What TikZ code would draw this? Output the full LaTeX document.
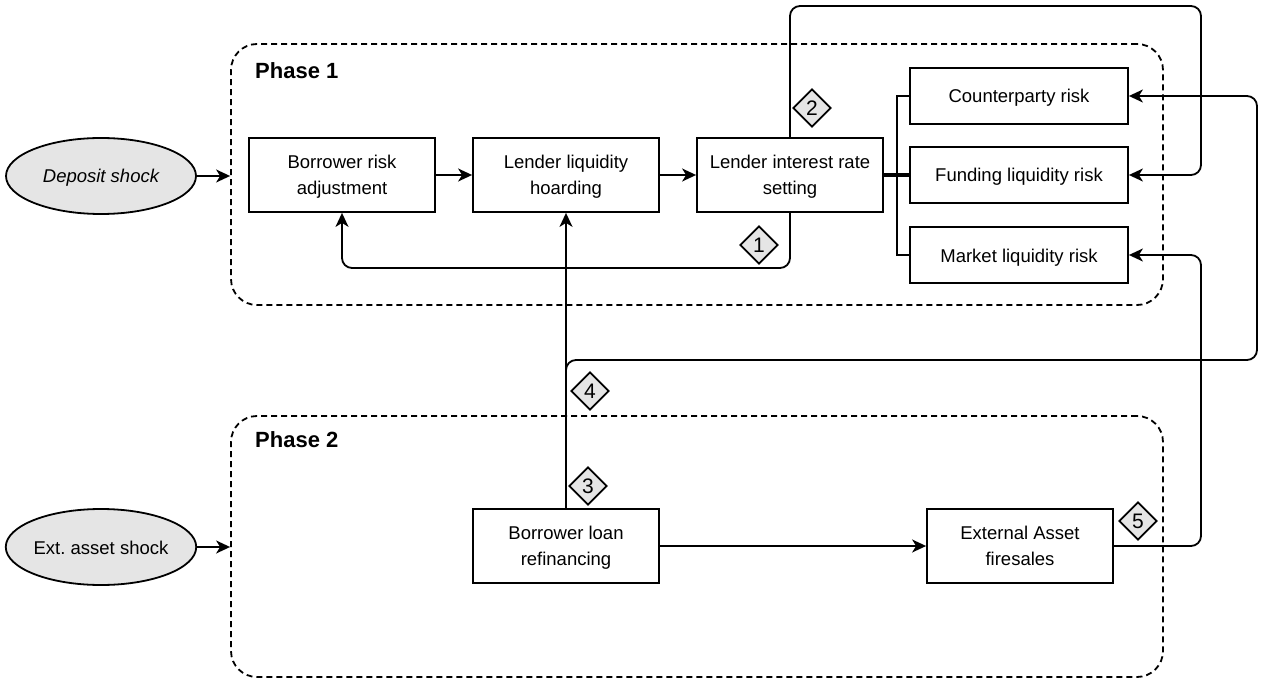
\documentclass[tikz,border=0pt]{standalone}
\usepackage{fontspec}
\setmainfont{Liberation Sans}
\usetikzlibrary{arrows.meta,shapes.geometric}
\frenchspacing
\begin{document}
\begin{tikzpicture}[x=1pt,y=-1pt,
  every node/.style={font=\fontsize{18.5}{26}\selectfont},
  ln/.style={line width=1.8pt},
  arr/.style={ln,-{Stealth[length=14pt,width=13pt,inset=4pt]}},
  rc/.style={rounded corners=10pt},
  ell/.style={ellipse,draw,ln,fill=black!10,minimum width=190pt,minimum height=76pt,inner sep=0pt,text height=16pt,text depth=2pt},
  phase/.style={draw,ln,dash pattern=on 6pt off 4pt,rounded corners=26pt,minimum width=932pt,minimum height=261pt,inner sep=0pt},
  pbox/.style={draw,ln,fill=white,minimum width=186pt,minimum height=74pt,align=center,inner sep=0pt,text depth=0pt},
  rbox/.style={draw,ln,fill=white,minimum width=218pt,minimum height=56pt,inner sep=0pt,text height=16pt,text depth=2pt},
  dia/.style={diamond,draw,ln,fill=black!10,minimum width=38pt,minimum height=38pt,inner sep=0pt,aspect=1,font=\fontsize{21}{24}\selectfont},
  ptitle/.style={font=\fontsize{22}{26}\selectfont\bfseries,anchor=west,inner sep=0pt}
]
\useasboundingbox (0,0) rectangle (1264,679);
% phases
\node[phase] (p1) at (697,174.5) {};
\node[phase] (p2) at (697,546.5) {};
\node[ptitle] (t1) at (255,71) {Phase 1};
\node[ptitle] (t2) at (255,440) {Phase 2};
% shocks
\node[ell] (dep) at (101,176) {\itshape Deposit shock};
\node[ell] (ext) at (101,547) {Ext.\ asset shock};
% phase 1 boxes
\node[pbox] (bra) at (342,175) {Borrower risk\\adjustment};
\node[pbox] (llh) at (566,175) {Lender liquidity\\hoarding};
\node[pbox] (lir) at (790,175) {Lender interest rate\\setting};
\node[rbox] (cp) at (1019,96) {Counterparty risk};
\node[rbox] (fl) at (1019,175) {Funding liquidity risk};
\node[rbox] (ml) at (1019,255) {Market liquidity risk};
% phase 2 boxes
\node[pbox] (blr) at (566,546) {Borrower loan\\refinancing};
\node[pbox] (efs) at (1020,546) {External Asset\\firesales};
% connectors
\draw[arr] (dep) -- (dep -| p1.west);
\draw[arr] (ext) -- (ext -| p2.west);
\draw[arr] (bra) -- (llh);
\draw[arr] (llh) -- (lir);
\draw[line width=3.5pt] (lir.east) -- (fl.west);
\draw[ln] (cp.west) -- ++(-12,0) |- (ml.west);
\draw[arr,rc] (lir.south) -- (790,268) -| (bra.south);
\draw[arr,rc] (lir.north) |- (1201,6) |- (fl.east);
\draw[arr] (blr.north) -- (llh.south);
\draw[arr,rc] (blr.north) |- (1257,360) |- (cp.east);
\draw[arr] (blr) -- (efs);
\draw[arr,rc] (efs.east) -- (1201,546) |- (ml.east);
% markers
\node[dia] (d1) at (759,245) {1};
\node[dia] (d2) at (812,108) {2};
\node[dia] (d3) at (588,486) {3};
\node[dia] (d4) at (590,391) {4};
\node[dia] (d5) at (1138,521) {5};
\end{tikzpicture}
\end{document}
